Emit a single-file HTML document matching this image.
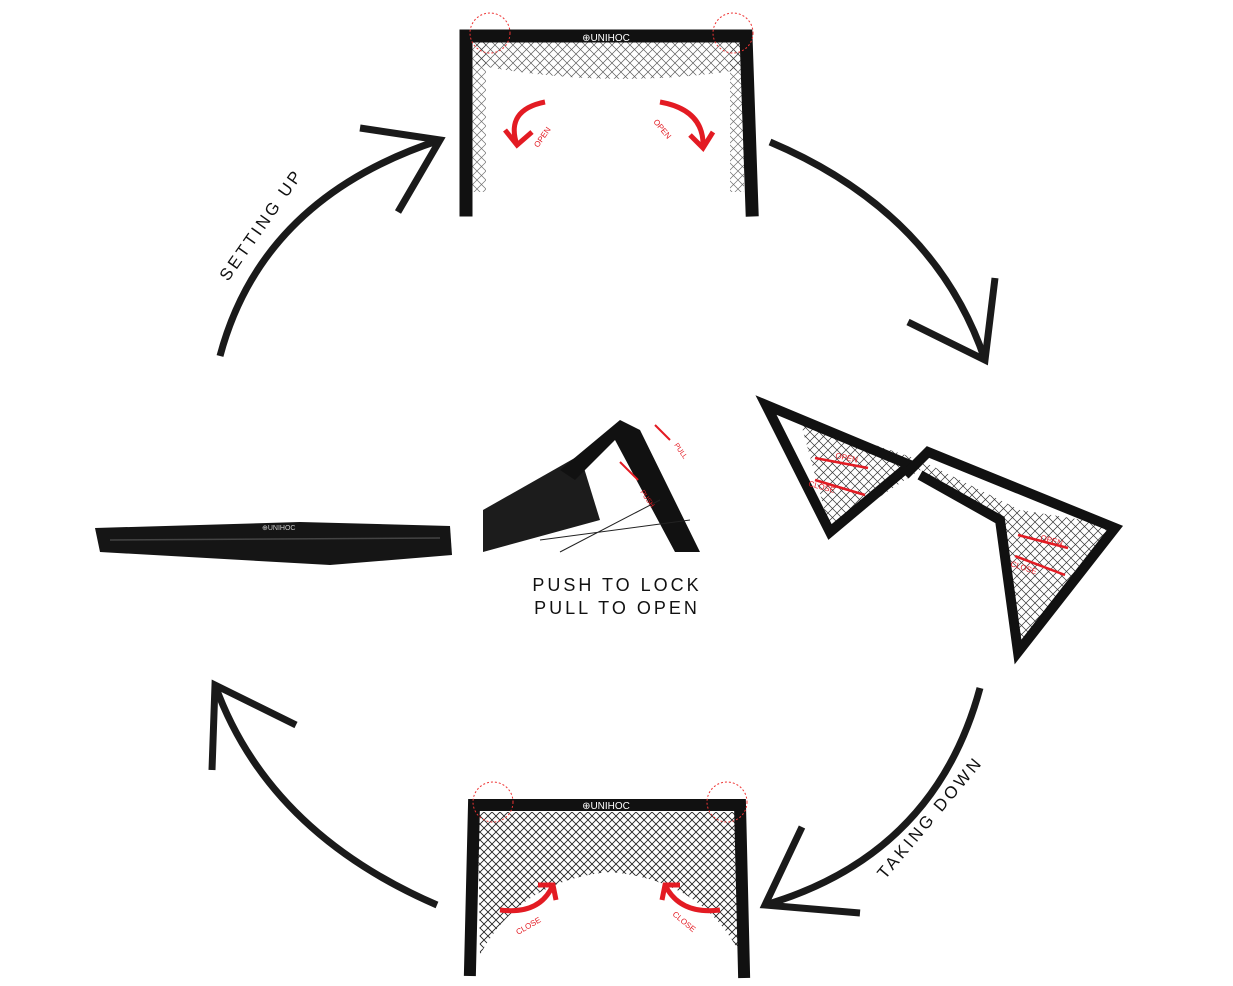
<!DOCTYPE html>
<html><head><meta charset="utf-8"><style>
html,body{margin:0;padding:0;background:#fff;}
svg{display:block;}
text{font-family:"Liberation Sans",sans-serif;}
</style></head><body>
<svg width="1233" height="986" viewBox="0 0 1233 986" xmlns="http://www.w3.org/2000/svg">
<defs>
<pattern id="net" width="9" height="9" patternUnits="userSpaceOnUse">
<path d="M0 0L9 9M9 0L0 9" stroke="#333" stroke-width="0.7" fill="none"/>
</pattern>
<pattern id="net2" width="8" height="8" patternUnits="userSpaceOnUse">
<path d="M0 0L8 8M8 0L0 8" stroke="#222" stroke-width="0.9" fill="none"/>
</pattern>
</defs>
<rect width="1233" height="986" fill="#fff"/>
<g fill="none" stroke="#1a1a1a" stroke-width="7" stroke-linecap="butt">
<path d="M220 356 Q262 198 440 140"/>
<path d="M360 128 L440 140 L398 212"/>
<path d="M770 142 Q935 212 985 360"/>
<path d="M995 278 L985 360 L908 322"/>
<path d="M980 688 Q935 855 765 905"/>
<path d="M802 827 L765 905 L860 913"/>
<path d="M437 905 Q268 832 215 685"/>
<path d="M212 770 L215 685 L296 725"/>
</g>
<text x="0" y="0" font-size="17" letter-spacing="3" fill="#111" transform="translate(228,282) rotate(-55)">SETTING UP</text>
<text x="0" y="0" font-size="17" letter-spacing="3" fill="#111" transform="translate(885,880) rotate(-50)">TAKING DOWN</text>
<text x="617" y="591" font-size="18" letter-spacing="3" text-anchor="middle" fill="#111">PUSH TO LOCK</text>
<text x="617" y="614" font-size="18" letter-spacing="3" text-anchor="middle" fill="#111">PULL TO OPEN</text>

<!-- top goal -->
<path d="M476 42 L740 42 L740 70 Q610 90 476 65 Z" fill="url(#net)" opacity="0.8"/>
<rect x="472" y="42" width="14" height="150" fill="url(#net)" opacity="0.7"/>
<rect x="730" y="42" width="14" height="150" fill="url(#net)" opacity="0.7"/>
<g stroke="#111" stroke-width="13" fill="none" stroke-linecap="square">
<path d="M466 210 L466 36 L746 36 L752 210"/>
</g>
<text x="606" y="41" font-size="10" fill="#fff" text-anchor="middle">⊕UNIHOC</text>
<circle cx="490" cy="33" r="20" fill="none" stroke="#e33" stroke-width="1" stroke-dasharray="2 2"/>
<circle cx="733" cy="33" r="20" fill="none" stroke="#e33" stroke-width="1" stroke-dasharray="2 2"/>
<g stroke="#e31b23" stroke-width="5" fill="none">
<path d="M545 102 Q505 110 517 145"/><path d="M505 130 L517 145 L532 132"/>
<path d="M660 102 Q705 110 703 148"/><path d="M690 135 L703 148 L713 132"/>
</g>
<text font-size="8" fill="#e31b23" transform="translate(538,148) rotate(-55)">OPEN</text>
<text font-size="8" fill="#e31b23" transform="translate(653,122) rotate(50)">OPEN</text>

<!-- bottom goal -->
<path d="M478 812 L738 812 L738 950 Q700 880 610 872 Q520 880 480 955 Z" fill="url(#net2)"/>
<g stroke="#111" stroke-width="12" fill="none" stroke-linecap="square">
<path d="M470 970 L474 805 L740 805 L744 972"/>
</g>
<text x="606" y="809" font-size="10" fill="#fff" text-anchor="middle">⊕UNIHOC</text>
<circle cx="493" cy="802" r="20" fill="none" stroke="#e33" stroke-width="1" stroke-dasharray="2 2"/>
<circle cx="727" cy="802" r="20" fill="none" stroke="#e33" stroke-width="1" stroke-dasharray="2 2"/>
<g stroke="#e31b23" stroke-width="5" fill="none">
<path d="M500 910 Q540 915 553 885"/><path d="M538 885 L553 885 L556 900"/>
<path d="M720 910 Q680 915 665 885"/><path d="M680 885 L665 885 L662 900"/>
</g>
<text font-size="8" fill="#e31b23" transform="translate(518,935) rotate(-30)">CLOSE</text>
<text font-size="8" fill="#e31b23" transform="translate(672,915) rotate(40)">CLOSE</text>

<!-- folded bag -->
<path d="M95 528 L300 522 L450 526 L452 555 L330 565 L100 552 Z" fill="#151515"/>
<path d="M110 540 L440 538" stroke="#444" stroke-width="1.5"/>
<text x="262" y="530" font-size="7" fill="#ccc">⊕UNIHOC</text>

<!-- close-up photo -->
<path d="M483 510 L580 455 L600 520 L483 552 Z" fill="#1c1c1c"/>
<path d="M560 470 L620 420 L640 430 L700 552 L675 552 L615 440 L575 480 Z" fill="#111"/>
<path d="M540 540 L690 520 M560 552 L660 500" stroke="#222" stroke-width="1"/>
<path d="M655 425 L670 440" stroke="#e31b23" stroke-width="2"/>
<path d="M638 480 L620 462" stroke="#e31b23" stroke-width="2"/>
<text font-size="7" fill="#e31b23" transform="translate(674,445) rotate(55)">PULL</text>
<text font-size="7" fill="#e31b23" transform="translate(640,492) rotate(55)">PUSH</text>

<!-- right folded triangle goal -->
<path d="M800 420 L920 460 L1020 510 L1115 525 L1020 650 L1000 520 L920 470 L830 530 Z" fill="url(#net)"/>
<g stroke="#111" stroke-width="10" fill="none" stroke-linejoin="miter">
<path d="M766 405 L910 465 L830 532 Z"/>
<path d="M905 475 L928 452 L1115 528 L1018 652 L1000 520 L920 475"/>
</g>
<g stroke="#e31b23" stroke-width="2.5" fill="none">
<path d="M815 458 L868 468"/><path d="M815 480 L865 495"/>
<path d="M1018 535 L1068 548"/><path d="M1015 556 L1065 575"/>
</g>
<text font-size="8" fill="#e31b23" transform="translate(835,458) rotate(12)">OPEN</text>
<text font-size="8" fill="#e31b23" transform="translate(808,486) rotate(15)">CLOSE</text>
<text font-size="8" fill="#e31b23" transform="translate(1040,540) rotate(15)">OPEN</text>
<text font-size="8" fill="#e31b23" transform="translate(1010,566) rotate(18)">CLOSE</text>
</svg>
</body></html>
